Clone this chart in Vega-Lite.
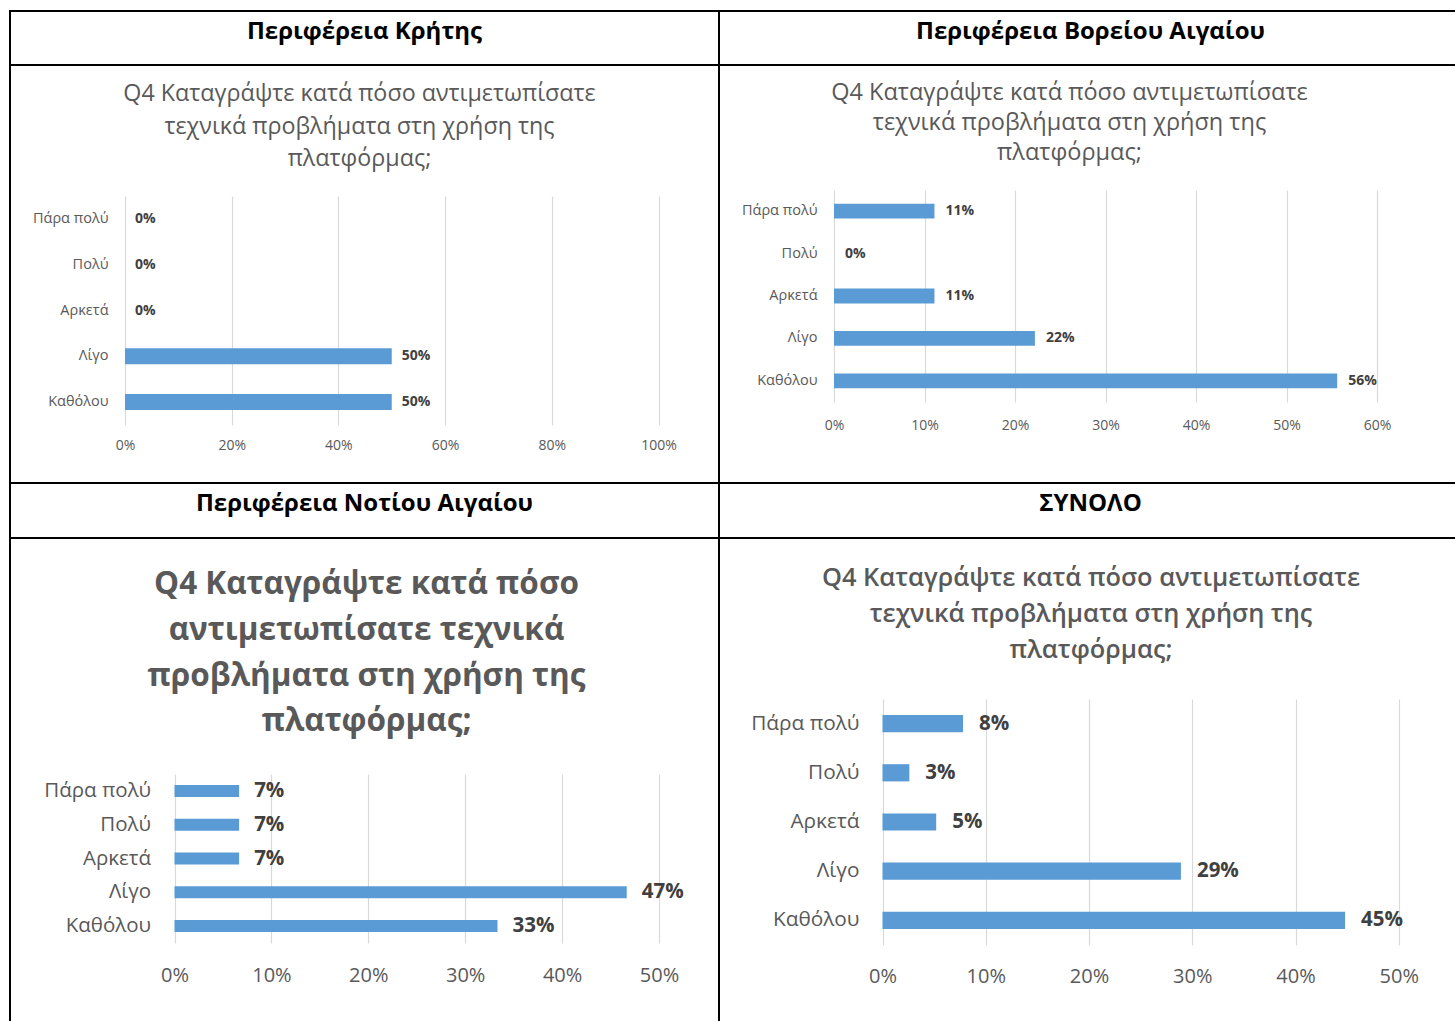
{
  "$schema": "https://vega.github.io/schema/vega-lite/v6.json",
  "background": "white",
  "padding": {"left": 9, "top": 10, "right": -2, "bottom": -2},
  "spacing": 0,
  "bounds": "flush",
  "columns": 2,
  "datasets": {
    "kriti": [
      {"cat": "Πάρα πολύ", "v": 0},
      {"cat": "Πολύ", "v": 0},
      {"cat": "Αρκετά", "v": 0},
      {"cat": "Λίγο", "v": 0.5},
      {"cat": "Καθόλου", "v": 0.5}
    ],
    "vorio": [
      {"cat": "Πάρα πολύ", "v": 0.111},
      {"cat": "Πολύ", "v": 0},
      {"cat": "Αρκετά", "v": 0.111},
      {"cat": "Λίγο", "v": 0.222},
      {"cat": "Καθόλου", "v": 0.556}
    ],
    "notio": [
      {"cat": "Πάρα πολύ", "v": 0.0667},
      {"cat": "Πολύ", "v": 0.0667},
      {"cat": "Αρκετά", "v": 0.0667},
      {"cat": "Λίγο", "v": 0.4667},
      {"cat": "Καθόλου", "v": 0.3333}
    ],
    "synolo": [
      {"cat": "Πάρα πολύ", "v": 0.078},
      {"cat": "Πολύ", "v": 0.026},
      {"cat": "Αρκετά", "v": 0.052},
      {"cat": "Λίγο", "v": 0.289},
      {"cat": "Καθόλου", "v": 0.448}
    ]
  },
  "concat": [
    {
      "width": 709, "height": 54,
      "data": {"values": [{"h": "Περιφέρεια Κρήτης"}]},
      "mark": {"type": "text", "fontSize": 24, "fontWeight": "bold", "color": "black", "dy": -6},
      "encoding": {"text": {"field": "h"}, "x": {"field": "h", "type": "nominal", "axis": null}, "y": {"field": "h", "type": "nominal", "axis": null}}
    },
    {
      "width": 737, "height": 54,
      "data": {"values": [{"h": "Περιφέρεια Βορείου Αιγαίου"}]},
      "mark": {"type": "text", "fontSize": 24, "fontWeight": "bold", "color": "black", "dy": -6, "dx": 3},
      "encoding": {"text": {"field": "h"}, "x": {"field": "h", "type": "nominal", "axis": null}, "y": {"field": "h", "type": "nominal", "axis": null}}
    },
    {
      "width": 709, "height": 418,
      "data": {"name": "kriti"},
      "title": {"text": ["Q4 Καταγράψτε κατά πόσο αντιμετωπίσατε", "τεχνικά προβλήματα στη χρήση της", "πλατφόρμας;"], "offset": -106.5, "baseline": "top", "lineHeight": 32.5, "fontSize": 23.3, "fontWeight": "normal", "color": "#595959", "dx": -5, "anchor": "middle"},
      "encoding": {
        "y": {"field": "cat", "type": "nominal", "sort": null, "title": null,
              "scale": {"range": [131, 360], "paddingInner": 0.65, "paddingOuter": 0.325},
              "axis": {"offset": -98, "labelFontSize": 14.5}},
        "x": {"field": "v", "type": "quantitative", "title": null,
              "scale": {"domain": [0, 1], "range": [115, 648.5]},
              "axis": {"orient": "top", "offset": -380.7, "values": [0, 0.2, 0.4, 0.6, 0.8, 1], "format": ".0%", "labelFontSize": 14}}
      },
      "layer": [
        {"mark": {"type": "bar", "color": "#5B9BD5"}},
        {"mark": {"type": "text", "align": "left", "baseline": "middle", "dx": 10, "fontWeight": "bold", "fontSize": 14, "color": "#404040"},
         "encoding": {"text": {"field": "v", "format": ".0%"}}}
      ]
    },
    {
      "width": 737, "height": 418,
      "data": {"name": "vorio"},
      "title": {"text": ["Q4 Καταγράψτε κατά πόσο αντιμετωπίσατε", "τεχνικά προβλήματα στη χρήση της", "πλατφόρμας;"], "offset": -99.5, "baseline": "top", "lineHeight": 30, "fontSize": 23.5, "fontWeight": "normal", "color": "#595959", "dx": -18, "anchor": "middle"},
      "encoding": {
        "y": {"field": "cat", "type": "nominal", "sort": null, "title": null,
              "scale": {"range": [125, 337], "paddingInner": 0.65, "paddingOuter": 0.325},
              "axis": {"offset": -98, "labelFontSize": 14.5}},
        "x": {"field": "v", "type": "quantitative", "title": null,
              "scale": {"domain": [0, 0.6], "range": [115, 658]},
              "axis": {"orient": "top", "offset": -360, "values": [0, 0.1, 0.2, 0.3, 0.4, 0.5, 0.6], "format": ".0%", "labelFontSize": 14}}
      },
      "layer": [
        {"mark": {"type": "bar", "color": "#5B9BD5"}},
        {"mark": {"type": "text", "align": "left", "baseline": "middle", "dx": 11, "fontWeight": "bold", "fontSize": 14, "color": "#404040"},
         "encoding": {"text": {"field": "v", "format": ".0%"}}}
      ]
    },
    {
      "width": 709, "height": 55,
      "data": {"values": [{"h": "Περιφέρεια Νοτίου Αιγαίου"}]},
      "mark": {"type": "text", "fontSize": 24, "fontWeight": "bold", "color": "black", "dy": -7},
      "encoding": {"text": {"field": "h"}, "x": {"field": "h", "type": "nominal", "axis": null}, "y": {"field": "h", "type": "nominal", "axis": null}}
    },
    {
      "width": 737, "height": 55,
      "data": {"values": [{"h": "ΣΥΝΟΛΟ"}]},
      "mark": {"type": "text", "fontSize": 24, "fontWeight": "bold", "color": "black", "dy": -7, "dx": 3},
      "encoding": {"text": {"field": "h"}, "x": {"field": "h", "type": "nominal", "axis": null}, "y": {"field": "h", "type": "nominal", "axis": null}}
    },
    {
      "width": 709, "height": 484,
      "data": {"name": "notio"},
      "title": {"text": ["Q4 Καταγράψτε κατά πόσο", "αντιμετωπίσατε τεχνικά", "προβλήματα στη χρήση της", "πλατφόρμας;"], "offset": -200, "baseline": "top", "lineHeight": 45.7, "fontSize": 31.5, "fontWeight": "bold", "color": "#595959", "dx": 2, "anchor": "middle"},
      "encoding": {
        "y": {"field": "cat", "type": "nominal", "sort": null, "title": null,
              "scale": {"range": [236, 405], "paddingInner": 0.645, "paddingOuter": 0.3225},
              "axis": {"offset": -140.6, "labelFontSize": 20.5}},
        "x": {"field": "v", "type": "quantitative", "title": null,
              "scale": {"domain": [0, 0.5], "range": [164.5, 649]},
              "axis": {"orient": "top", "offset": -437, "values": [0, 0.1, 0.2, 0.3, 0.4, 0.5], "format": ".0%", "labelFontSize": 20}}
      },
      "layer": [
        {"mark": {"type": "bar", "color": "#5B9BD5"}},
        {"mark": {"type": "text", "align": "left", "baseline": "middle", "dx": 15, "fontWeight": "bold", "fontSize": 20.5, "color": "#404040"},
         "encoding": {"text": {"field": "v", "format": ".0%"}}}
      ]
    },
    {
      "width": 737, "height": 484,
      "data": {"name": "synolo"},
      "title": {"text": ["Q4 Καταγράψτε κατά πόσο αντιμετωπίσατε", "τεχνικά προβλήματα στη χρήση της", "πλατφόρμας;"], "offset": -125, "baseline": "top", "lineHeight": 36, "fontSize": 25.4, "fontWeight": 600, "color": "#595959", "dx": 3.5, "anchor": "middle"},
      "encoding": {
        "y": {"field": "cat", "type": "nominal", "sort": null, "title": null,
              "scale": {"range": [161, 407], "paddingInner": 0.65, "paddingOuter": 0.325},
              "axis": {"offset": -140, "labelFontSize": 20.8}},
        "x": {"field": "v", "type": "quantitative", "title": null,
              "scale": {"domain": [0, 0.5], "range": [163.5, 679.8]},
              "axis": {"orient": "top", "offset": -438.7, "values": [0, 0.1, 0.2, 0.3, 0.4, 0.5], "format": ".0%", "labelFontSize": 20}}
      },
      "layer": [
        {"mark": {"type": "bar", "color": "#5B9BD5"}},
        {"mark": {"type": "text", "align": "left", "baseline": "middle", "dx": 16, "fontWeight": "bold", "fontSize": 20.5, "color": "#404040"},
         "encoding": {"text": {"field": "v", "format": ".0%"}}}
      ]
    }
  ],
  "config": {
    "font": "Open Sans",
    "view": {"stroke": "black", "strokeWidth": 2},
    "axis": {"domain": false, "ticks": false, "tickSize": 0, "labelPadding": 0, "labelColor": "#595959", "gridColor": "#d9d9d9", "gridWidth": 1.2},
    "axisX": {"labelFlush": false, "labelBaseline": "middle", "labelOverlap": false, "grid": true},
    "axisY": {"grid": false, "labelLimit": 300}
  }
}
